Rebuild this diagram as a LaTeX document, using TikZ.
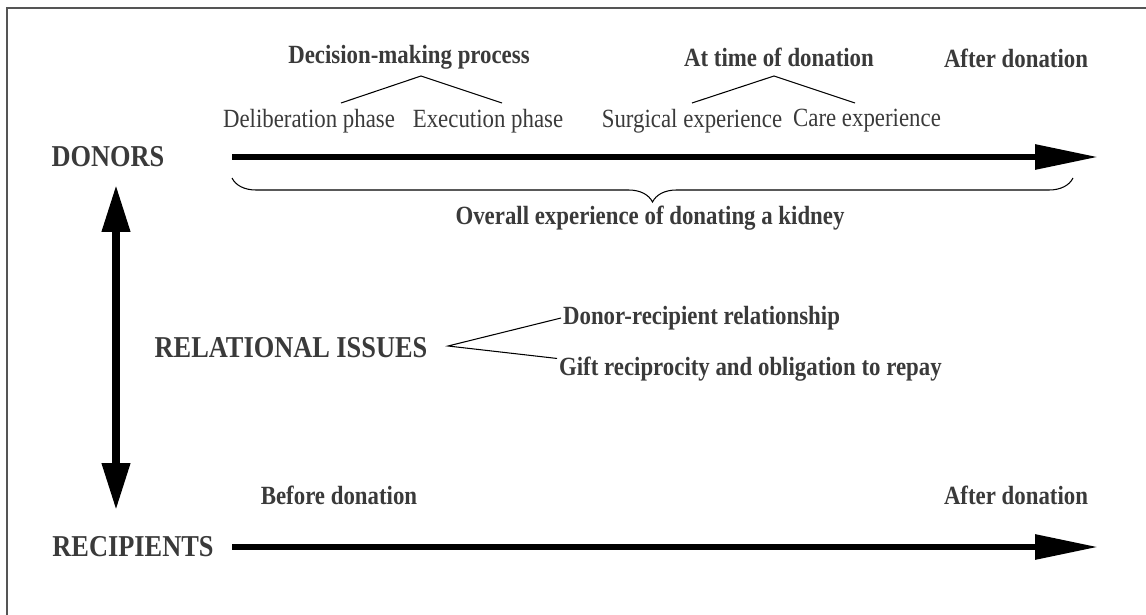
\documentclass[tikz,border=0pt]{standalone}
\usepackage{fontspec}
\setmainfont{Liberation Serif}
\usetikzlibrary{arrows.meta,decorations.pathreplacing}

\definecolor{txtgray}{HTML}{3A3A3A}
\definecolor{framegray}{HTML}{555555}

\tikzset{
  tall/.style={yscale=1.15, transform shape},
  group/.style={tall, font=\fontsize{15}{18}\selectfont\bfseries, text=txtgray, inner sep=1pt},
  stage/.style={tall, font=\fontsize{13}{15}\selectfont\bfseries, text=txtgray, inner sep=1pt},
  phase/.style={tall, font=\fontsize{13}{15}\selectfont, text=txtgray, inner sep=1pt},
  branch/.style={line width=0.6pt},
  timeline/.style={line width=3.4pt, -{Triangle[length=1.26cm, width=0.48cm]}},
  linkarrow/.style={line width=4.2pt, {Triangle[length=0.94cm, width=0.54cm]}-{Triangle[length=0.94cm, width=0.54cm]}}
}

\begin{document}
\begin{tikzpicture}[x=0.02cm, y=-0.02cm]
  \useasboundingbox (0,0) rectangle (1146,615);
  % frame
  \draw[framegray, line width=0.8pt] (7,640) |- (1170,8);

  % donors
  \node[group] (donors) at (108,157) {DONORS};
  \coordinate (dstart) at (232,157);
  \coordinate (dend) at (1098,157);
  \draw[timeline] (dstart) -- (dend);

  \node[stage] (decision) at (409,57) {Decision-making process};
  \node[phase] (delib) at (309,121) {Deliberation phase};
  \node[phase] (exec) at (488,121) {Execution phase};
  \coordinate (dtop) at (421,76);
  \coordinate (dleft) at (341,103);
  \coordinate (dright) at (502,103);
  \draw[branch] (dleft) -- (dtop) -- (dright);

  \node[stage] (attime) at (779,57) {At time of donation};
  \node[phase] (surg) at (692,121) {Surgical experience};
  \node[phase] (care) at (867,121) {Care experience};
  \coordinate (atop) at (774,76);
  \coordinate (aleft) at (692,103);
  \coordinate (aright) at (855,103);
  \draw[branch] (aleft) -- (atop) -- (aright);

  \node[stage] (dafter) at (1016,58) {After donation};

  % brace under the donor timeline
  \coordinate (bleft) at (232,178);
  \coordinate (bright) at (1073,178);
  \draw[branch, decorate, decoration={brace, mirror, amplitude=0.48cm}] (bleft) -- (bright);
  \node[stage] (overall) at (650,218) {Overall experience of donating a kidney};

  % relational issues
  \coordinate (utop) at (116,185);
  \coordinate (ubot) at (116,510);
  \draw[linkarrow] (utop) -- (ubot);
  \node[group] (relation) at (291,348) {RELATIONAL ISSUES};
  \node[stage, anchor=west] (dr) at (561,318) {Donor-recipient relationship};
  \node[stage, anchor=west] (gift) at (557,369) {Gift reciprocity and obligation to repay};
  \coordinate (rapex) at (448,346);
  \draw[branch] (dr.west) -- (rapex) -- ([yshift=6pt]gift.west);

  % recipients
  \node[group] (recip) at (133,547) {RECIPIENTS};
  \coordinate (rstart) at (232,547);
  \coordinate (rend) at (1098,547);
  \draw[timeline] (rstart) -- (rend);
  \node[stage] (before) at (339,495) {Before donation};
  \node[stage] (rafter) at (1016,495) {After donation};
\end{tikzpicture}
\end{document}
